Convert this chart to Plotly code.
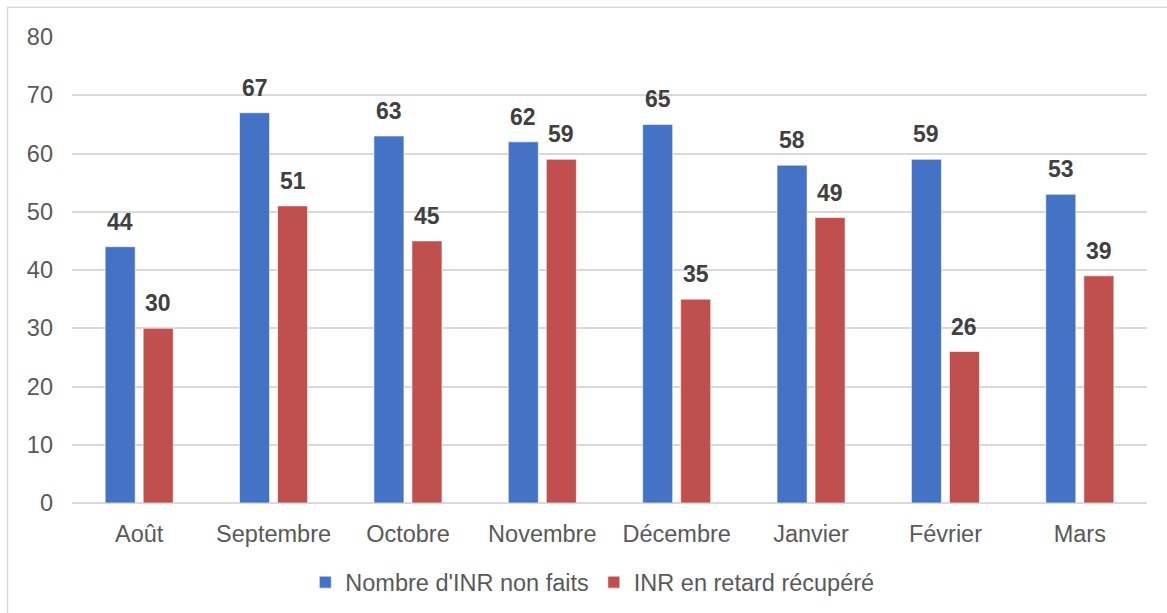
import plotly.graph_objects as go

months = ["Août", "Septembre", "Octobre", "Novembre", "Décembre", "Janvier", "Février", "Mars"]
non_faits = [44, 67, 63, 62, 65, 58, 59, 53]
recuperes = [30, 51, 45, 59, 35, 49, 26, 39]
series_names = ["Nombre d'INR non faits", "INR en retard récupéré"]
colors = ["#4472C4", "#C0504D"]

fig = go.Figure()
for name, vals, col in zip(series_names, [non_faits, recuperes], colors):
    fig.add_trace(go.Bar(
        x=months, y=vals, name=name,
        marker=dict(color=col, line=dict(color="rgba(255,255,255,0.6)", width=1)),
    ))

# data labels
for shift, vals in zip([-19, 19], [non_faits, recuperes]):
    for m, v in zip(months, vals):
        fig.add_annotation(
            x=m, y=v, text=str(v), showarrow=False,
            xshift=shift, yshift=10, yanchor="bottom",
            font=dict(family="Liberation Sans, Arial", size=23, color="#404040", weight="bold"),
        )

# outer chart border
fig.add_shape(type="rect", xref="paper", yref="paper",
              x0=-0.06, x1=1.03, y0=-0.3, y1=1.064,
              line=dict(color="#D9D9D9", width=1.5), fillcolor="rgba(0,0,0,0)", layer="below")

fig.update_layout(
    width=1167, height=613,
    margin=dict(l=72, r=20, t=37, b=110, autoexpand=False),
    paper_bgcolor="white", plot_bgcolor="white",
    barmode="group", bargap=0.434, bargroupgap=0.21,
    font=dict(family="Liberation Sans, Arial", size=23, color="#595959"),
    showlegend=True,
    legend=dict(orientation="h", x=0.484, xanchor="center",
                yref="container", y=0.05, yanchor="middle",
                font=dict(size=23.5, color="#595959"), itemwidth=30, traceorder="normal"),
    xaxis=dict(showgrid=False, showline=False, ticks="", tickfont=dict(size=23.5),
               ticklabelstandoff=14),
    yaxis=dict(range=[0, 80], dtick=10, showgrid=True, gridcolor="#D9D9D9", gridwidth=1.5,
               zeroline=True, zerolinecolor="#D9D9D9", zerolinewidth=1.5,
               showline=False, ticks="", tickfont=dict(size=23.5), ticklabelstandoff=18),
)

fig.write_html("out.html", config={"displayModeBar": False},
               post_script="document.body.style.margin='0';")
